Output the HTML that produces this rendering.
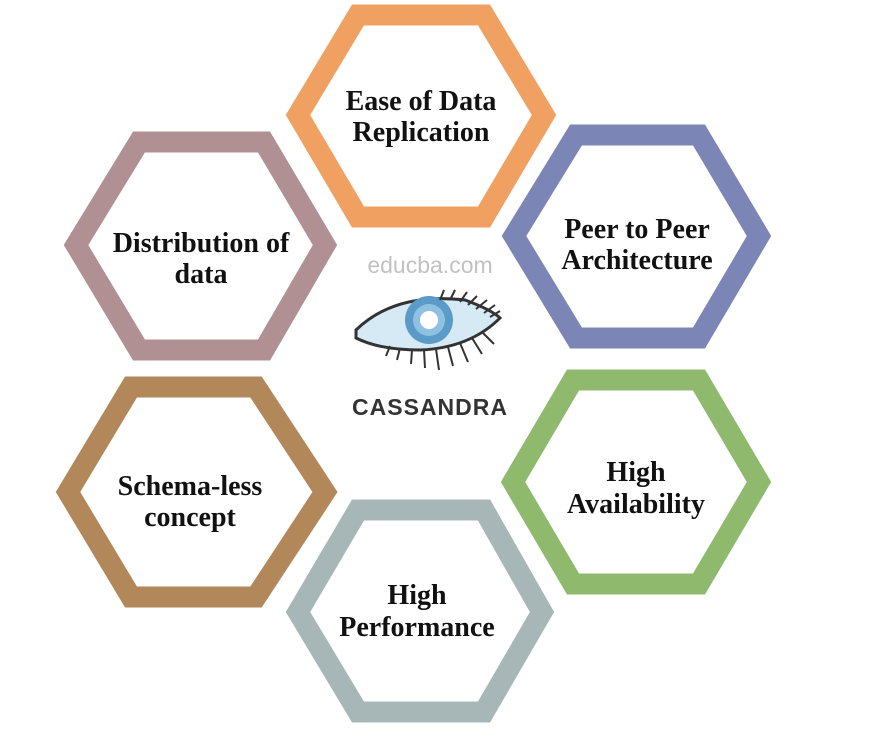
<!DOCTYPE html>
<html><head><meta charset="utf-8"><style>
html,body{margin:0;padding:0;background:#fff;}
svg{display:block;}
.t{font-family:"Liberation Serif",serif;font-weight:bold;font-size:28px;fill:#111;text-anchor:middle;}
</style></head><body>
<svg width="876" height="742" viewBox="0 0 876 742" xmlns="http://www.w3.org/2000/svg">
<g fill="none" stroke-width="21" stroke-linejoin="miter">
<polygon stroke="#f0a060" points="298,115 358,15 484,15 544,115 484,217 358,217"/>
<polygon stroke="#b09092" points="76,245 139,142 264,142 325,245 264,350 139,350"/>
<polygon stroke="#7c86b6" points="514,236 576,135 699,135 759,236 699,338 576,338"/>
<polygon stroke="#b2885a" points="68,492 131,387 256,387 325,492 256,597 131,597"/>
<polygon stroke="#8fba6e" points="513,482 573,380 699,380 759,482 699,584 573,584"/>
<polygon stroke="#a7b7b8" points="298,612 358,510 484,510 542,612 484,712 358,712"/>
</g>
<text class="t" x="421" y="110">Ease of Data</text>
<text class="t" x="421" y="141">Replication</text>
<text class="t" x="201" y="252">Distribution of</text>
<text class="t" x="201" y="283">data</text>
<text class="t" x="637" y="238">Peer to Peer</text>
<text class="t" x="637" y="269">Architecture</text>
<text class="t" x="190" y="495">Schema-less</text>
<text class="t" x="190" y="526">concept</text>
<text class="t" x="636" y="481">High</text>
<text class="t" x="636" y="513">Availability</text>
<text class="t" x="417" y="604">High</text>
<text class="t" x="417" y="636">Performance</text>
<text x="430" y="273" font-family="Liberation Sans,sans-serif" font-size="23" fill="#c2c2c2" text-anchor="middle">educba.com</text>
<g>
<path d="M356,330 Q395,292 465,300 Q492,310 500,318 Q470,348 420,350 Q380,350 356,338 Z" fill="#d6eaf6" stroke="#333" stroke-width="3"/>
<circle cx="429" cy="320" r="24" fill="#5b9bc8"/>
<circle cx="429" cy="320" r="16" fill="#8fc2e2"/>
<circle cx="429" cy="320" r="9" fill="#fff"/>
<g stroke="#333" stroke-width="2">
<line x1="440" y1="300" x2="444" y2="290"/><line x1="450" y1="300" x2="455" y2="290"/><line x1="460" y1="302" x2="467" y2="292"/><line x1="468" y1="305" x2="477" y2="296"/><line x1="476" y1="309" x2="487" y2="300"/><line x1="484" y1="313" x2="495" y2="305"/><line x1="490" y1="317" x2="500" y2="311"/>
<line x1="390" y1="346" x2="386" y2="356"/><line x1="400" y1="348" x2="397" y2="360"/><line x1="412" y1="350" x2="411" y2="364"/><line x1="424" y1="350" x2="425" y2="368"/><line x1="436" y1="349" x2="439" y2="370"/><line x1="448" y1="347" x2="453" y2="366"/><line x1="460" y1="343" x2="468" y2="362"/><line x1="472" y1="338" x2="482" y2="354"/><line x1="482" y1="332" x2="494" y2="344"/>
</g>
</g>
<text x="430" y="415" font-family="Liberation Sans,sans-serif" font-weight="bold" font-size="23" fill="#333" text-anchor="middle" letter-spacing="1">CASSANDRA</text>
</svg>
</body></html>
